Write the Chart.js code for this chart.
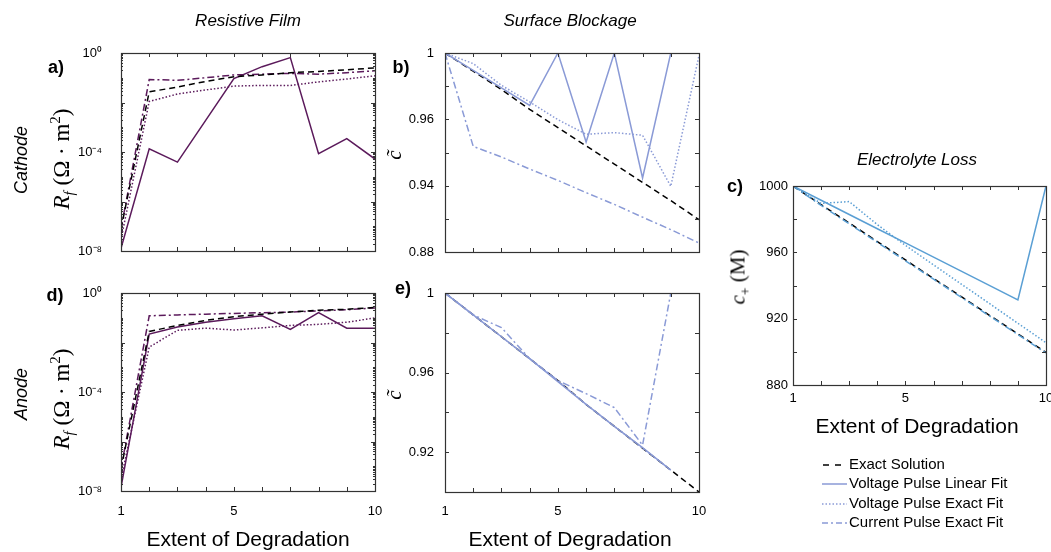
<!DOCTYPE html>
<html><head><meta charset="utf-8">
<script src="https://cdn.jsdelivr.net/npm/chart.js@4.4.1/dist/chart.umd.min.js"></script>
<style>
body{margin:0;background:#fff;}
#wrap{position:relative;width:1051px;height:552px;overflow:hidden;font-family:"Liberation Sans",Arial,sans-serif;color:#000;}
canvas{position:absolute;left:0;top:0;}
.t{position:absolute;white-space:nowrap;transform:translate(-50%,-50%);line-height:1;}
.rot{transform:translate(-50%,-50%) rotate(-90deg);}
.ttl{font-size:17px;font-style:italic;}
.let{font-size:18px;font-weight:bold;}
.side{font-size:18px;font-style:italic;}
.ser{font-family:"Liberation Serif","DejaVu Serif",serif;font-size:23px;}
.ser2{font-family:"Liberation Serif","DejaVu Serif",serif;font-size:21px;}
.xt{font-size:21px;}
.leg{position:absolute;left:822px;font-size:15px;white-space:nowrap;line-height:1;}
.leg svg{vertical-align:middle;margin-right:2px;}
sub,sup{font-size:65%;line-height:0;}
</style></head>
<body><div id="wrap">
<canvas id="ca" width="1051" height="552"></canvas>
<canvas id="cb" width="1051" height="552"></canvas>
<canvas id="cc" width="1051" height="552"></canvas>
<canvas id="cd" width="1051" height="552"></canvas>
<canvas id="ce" width="1051" height="552"></canvas>

<div class="t ttl" style="left:248px;top:20px">Resistive Film</div>
<div class="t ttl" style="left:570px;top:20px">Surface Blockage</div>
<div class="t ttl" style="left:917px;top:159px">Electrolyte Loss</div>

<div class="t let" style="left:56px;top:67px">a)</div>
<div class="t let" style="left:401px;top:67px">b)</div>
<div class="t let" style="left:735px;top:186px">c)</div>
<div class="t let" style="left:55px;top:295px">d)</div>
<div class="t let" style="left:403px;top:288px">e)</div>

<div class="t side rot" style="left:21px;top:160px">Cathode</div>
<div class="t side rot" style="left:21px;top:394px">Anode</div>
<div class="t ser rot" style="left:61px;top:159px"><i>R</i><sub><i>f</i></sub>&nbsp;(Ω · m<sup>2</sup>)</div>
<div class="t ser rot" style="left:61px;top:399px"><i>R</i><sub><i>f</i></sub>&nbsp;(Ω · m<sup>2</sup>)</div>
<div class="t ser2 rot" style="left:394px;top:155px"><i>c̃</i></div>
<div class="t ser2 rot" style="left:394px;top:395px"><i>c̃</i></div>
<div class="t ser2 rot" style="left:738px;top:277px"><i>c</i><sub>+</sub>&nbsp;(M)</div>

<div class="t xt" style="left:248px;top:538px">Extent of Degradation</div>
<div class="t xt" style="left:570px;top:538px">Extent of Degradation</div>
<div class="t xt" style="left:917px;top:425px">Extent of Degradation</div>

<div class="leg" style="top:456px"><svg width="25" height="6"><line x1="1" y1="3" x2="25" y2="3" stroke="#000" stroke-width="1.5" stroke-dasharray="6,6"/></svg>Exact Solution</div>
<div class="leg" style="top:475px"><svg width="25" height="6"><line x1="0" y1="3" x2="25" y2="3" stroke="#8a9ad6" stroke-width="1.5"/></svg>Voltage Pulse Linear Fit</div>
<div class="leg" style="top:495px"><svg width="25" height="6"><line x1="0" y1="3" x2="25" y2="3" stroke="#8a9ad6" stroke-width="1.5" stroke-dasharray="1.5,2"/></svg>Voltage Pulse Exact Fit</div>
<div class="leg" style="top:514px"><svg width="25" height="6"><line x1="0" y1="3" x2="25" y2="3" stroke="#8a9ad6" stroke-width="1.5" stroke-dasharray="6,3,2,3"/></svg>Current Pulse Exact Fit</div>
</div>
<script>
// ---------- data ----------
const degradation = [1, 2, 3, 4, 5, 6, 7, 8, 9, 10];
const xTickLabels = ['1', '', '', '', '5', '', '', '', '', '10'];

// a) cathode resistive film (Ohm m^2)
const cathRfExact   = [8e-8, 0.027, 0.042, 0.071, 0.11, 0.13, 0.16, 0.18, 0.21, 0.25];
const cathRfVLinear = [1.3e-8, 1.35e-4, 3.9e-5, 1.9e-3, 0.093, 0.28, 0.65, 8.5e-5, 3.5e-4, 5.2e-5];
const cathRfVExact  = [3e-8, 0.011, 0.022, 0.032, 0.046, 0.049, 0.049, 0.068, 0.089, 0.12];
const cathRfCExact  = [8e-8, 0.085, 0.079, 0.10, 0.13, 0.14, 0.15, 0.14, 0.16, 0.19];

// d) anode resistive film
const anodRfExact   = [8e-8, 0.028, 0.049, 0.078, 0.11, 0.14, 0.17, 0.20, 0.22, 0.26];
const anodRfVLinear = [1.4e-8, 0.022, 0.042, 0.066, 0.091, 0.12, 0.034, 0.16, 0.038, 0.038];
const anodRfVExact  = [3e-8, 0.0065, 0.031, 0.038, 0.032, 0.039, 0.049, 0.054, 0.066, 0.098];
const anodRfCExact  = [8e-8, 0.12, 0.13, 0.14, 0.15, 0.16, 0.17, 0.19, 0.21, 0.25];

// b) cathode surface blockage
const cathCExact   = [1, 0.989, 0.978, 0.966, 0.955, 0.944, 0.933, 0.922, 0.911, 0.8995];
const cathCVLinear = [1, 0.9895, 0.979, 0.9684, 1, 0.9463, 1, 0.9246, 1, 1];
const cathCVExact  = [1, 0.9936, 0.9805, 0.9705, 0.9598, 0.951, 0.952, 0.9504, 0.9196, 0.9986];
const cathCCExact  = [1, 0.9437, 0.9373, 0.930, 0.9232, 0.9158, 0.9087, 0.901, 0.8935, 0.8854];

// e) anode surface blockage
const anodCExact   = [1, 0.989, 0.978, 0.967, 0.956, 0.944, 0.933, 0.922, 0.911, 0.900];
const anodCVLinear = [1, 0.989, 0.978, 0.967, 0.9555, 0.944, 0.933, 0.9223, 0.911, null];
const anodCVExact  = [1, 0.989, 0.978, 0.967, 0.956, 0.944, 0.933, 0.922, 0.911, null];
const anodCCExact  = [1, 0.989, 0.9826, 0.967, 0.956, 0.9494, 0.9424, 0.9235, 1, null];

// c) electrolyte loss (M)
const elecExact   = [1000, 988.8, 977.7, 966.5, 955.4, 944.2, 933.1, 921.9, 910.8, 899.6];
const elecVLinear = [1000, 991.4, 982.8, 974.2, 965.7, 957.1, 948.5, 939.9, 931.3, 1000];
const elecVExact  = [1000, 989.5, 990.6, 976.7, 964.2, 952.4, 940.7, 929.0, 917.2, 905.5];
const elecCExact  = [1000, 988.3, 977.2, 966.0, 954.9, 943.8, 932.7, 921.5, 910.4, 899.3];

// tick values / labels (ascending)
const rfTicks = [1e-8, 1e-6, 1e-4, 1e-2, 1];
const rfTickLabels = ['10⁻⁸', '', '10⁻⁴', '', '10⁰'];
const bTicks = [0.88, 0.90, 0.92, 0.94, 0.96, 0.98, 1];
const bTickLabels = ['0.88', '', '0.94', '', '0.96', '', '1'];
const eTicks = [0.90, 0.92, 0.94, 0.96, 0.98, 1];
const eTickLabels = ['', '0.92', '', '0.96', '', '1'];
const cTicks = [880, 900, 920, 940, 960, 980, 1000];
const cTickLabels = ['880', '', '920', '', '960', '', '1000'];

// ---------- rendering ----------
const YW = 64, XH = 30;
const PURPLE = '#5b1a5b', LAV = '#8a9ad6', BLUE = '#5a9fd4';

function pts(arr) { return degradation.map((x, i) => ({ x: x, y: arr[i] })); }
function ds(arr, color, kind) {
  const dash = { solid: [], dashed: [6, 4], dotted: [1.5, 2], dashdot: [7, 3, 2, 3] }[kind];
  return { data: pts(arr), borderColor: color, borderWidth: 1.5, borderDash: dash,
           pointRadius: 0, tension: 0, fill: false, spanGaps: false };
}

const frame = {
  id: 'frame',
  afterDatasetsDraw(chart, args, o) {
    const c = chart.ctx, a = chart.chartArea;
    const xs = chart.scales.x, ys = chart.scales.y;
    c.save();
    c.strokeStyle = '#333'; c.lineWidth = 1;
    c.beginPath();
    degradation.forEach(v => {
      const px = Math.round(xs.getPixelForValue(v)) + 0.5;
      c.moveTo(px, a.bottom); c.lineTo(px, a.bottom - 4);
      c.moveTo(px, a.top); c.lineTo(px, a.top + 4);
    });
    o.yTicks.forEach(v => {
      const py = Math.round(ys.getPixelForValue(v)) + 0.5;
      c.moveTo(a.left, py); c.lineTo(a.left + 4, py);
      c.moveTo(a.right, py); c.lineTo(a.right - 4, py);
    });
    if (o.log) {
      for (let e = -8; e < 0; e++) for (let k = 2; k <= 10; k++) {
        const v = k * Math.pow(10, e);
        const py = Math.round(ys.getPixelForValue(v)) + 0.5;
        c.moveTo(a.left, py); c.lineTo(a.left + 2, py);
        c.moveTo(a.right, py); c.lineTo(a.right - 2, py);
      }
    }
    c.stroke();
    c.lineWidth = 1.2;
    c.strokeRect(Math.round(a.left) + 0.5, Math.round(a.top) + 0.5, Math.round(a.right - a.left), Math.round(a.bottom - a.top));
    c.restore();
  }
};

function make(id, p) {
  new Chart(document.getElementById(id), {
    type: 'line',
    data: { datasets: p.datasets },
    plugins: [frame],
    options: {
      responsive: false, animation: false, devicePixelRatio: 1,
      layout: { padding: { left: p.L - YW, top: p.T, right: 1051 - p.R, bottom: 552 - p.B - XH } },
      plugins: { legend: { display: false }, tooltip: { enabled: false }, frame: { yTicks: p.yTicks, log: p.log } },
      scales: {
        x: {
          type: 'linear', min: 1, max: 10,
          grid: { display: false, drawTicks: false }, border: { display: false },
          afterBuildTicks: s => { s.ticks = degradation.map(v => ({ value: v })); },
          afterFit: s => { s.height = XH; s.paddingLeft = 0; s.paddingRight = 0; },
          ticks: { display: p.showX, autoSkip: false, maxRotation: 0, padding: p.xPad,
                   color: '#000', font: { family: 'Liberation Sans', size: 13 },
                   callback: (v, i) => xTickLabels[i] }
        },
        y: {
          type: p.log ? 'logarithmic' : 'linear', min: p.yMin, max: p.yMax,
          grid: { display: false, drawTicks: false }, border: { display: false },
          afterBuildTicks: s => { s.ticks = p.yTicks.map(v => ({ value: v })); },
          afterFit: s => { s.width = YW; s.paddingTop = 0; s.paddingBottom = 0; },
          ticks: { autoSkip: false, padding: p.yPad, color: '#000',
                   font: { family: 'Liberation Sans', size: 13 },
                   callback: (v, i) => p.yLabels[i] }
        }
      }
    }
  });
}

// dataset order: first in array is drawn on top
make('ca', { L: 121, T: 53, R: 375, B: 251, log: true, yMin: 1e-8, yMax: 1, yTicks: rfTicks, yLabels: rfTickLabels,
  showX: false, xPad: 12, yPad: 19,
  datasets: [ds(cathRfExact, '#000', 'dashed'), ds(cathRfVLinear, PURPLE, 'solid'),
             ds(cathRfVExact, PURPLE, 'dotted'), ds(cathRfCExact, PURPLE, 'dashdot')] });
make('cd', { L: 121, T: 293, R: 375, B: 491, log: true, yMin: 1e-8, yMax: 1, yTicks: rfTicks, yLabels: rfTickLabels,
  showX: true, xPad: 13, yPad: 19,
  datasets: [ds(anodRfExact, '#000', 'dashed'), ds(anodRfVLinear, PURPLE, 'solid'),
             ds(anodRfVExact, PURPLE, 'dotted'), ds(anodRfCExact, PURPLE, 'dashdot')] });
make('cb', { L: 445, T: 53, R: 699, B: 252, log: false, yMin: 0.88, yMax: 1, yTicks: bTicks, yLabels: bTickLabels,
  showX: false, xPad: 12, yPad: 11,
  datasets: [ds(cathCVLinear, LAV, 'solid'), ds(cathCVExact, LAV, 'dotted'),
             ds(cathCCExact, LAV, 'dashdot'), ds(cathCExact, '#000', 'dashed')] });
make('ce', { L: 445, T: 293, R: 699, B: 492, log: false, yMin: 0.90, yMax: 1, yTicks: eTicks, yLabels: eTickLabels,
  showX: true, xPad: 12, yPad: 11,
  datasets: [ds(anodCVLinear, LAV, 'solid'), ds(anodCVExact, LAV, 'dotted'),
             ds(anodCCExact, LAV, 'dashdot'), ds(anodCExact, '#000', 'dashed')] });
make('cc', { L: 793, T: 186, R: 1046, B: 385, log: false, yMin: 880, yMax: 1000, yTicks: cTicks, yLabels: cTickLabels,
  showX: true, xPad: 6, yPad: 5,
  datasets: [ds(elecVLinear, BLUE, 'solid'), ds(elecVExact, BLUE, 'dotted'),
             ds(elecCExact, BLUE, 'dashdot'), ds(elecExact, '#000', 'dashed')] });
</script>
</body></html>
